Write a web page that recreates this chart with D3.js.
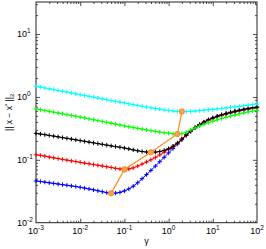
<!DOCTYPE html>
<html>
<head>
<meta charset="utf-8">
<script src="https://cdn.jsdelivr.net/npm/d3@7"></script>
<style>
  body { margin: 0; background: #fff; }
  svg { display: block; font-family: "Liberation Sans", Arial, sans-serif; }
</style>
</head>
<body>
<svg id="grafico"></svg>
<script>
// gamma sampled as 10^e
var gammaExp = [-3.0, -2.9, -2.8, -2.7, -2.6, -2.5, -2.4, -2.3, -2.2, -2.1,
                -2.0, -1.9, -1.8, -1.7, -1.6, -1.5, -1.4, -1.3, -1.2, -1.1,
                -1.0, -0.9, -0.8, -0.7, -0.6, -0.5, -0.4, -0.3, -0.2, -0.1,
                 0.0,  0.1,  0.2,  0.3,  0.4,  0.5,  0.6,  0.7,  0.8,  0.9,
                 1.0,  1.1,  1.2,  1.3,  1.4,  1.5,  1.6,  1.7,  1.8,  1.9, 2.0];

// log10 of || x - x* ||_2
var cyanLog = [0.170, 0.157, 0.143, 0.130, 0.117, 0.103, 0.090, 0.076, 0.063, 0.050,
               0.036, 0.023, 0.010, -0.004, -0.017, -0.030, -0.044, -0.057, -0.070, -0.083,
               -0.096, -0.109, -0.122, -0.135, -0.148, -0.160, -0.172, -0.184, -0.195, -0.206,
               -0.215, -0.223, -0.229, -0.233, -0.232, -0.229, -0.224, -0.218, -0.212, -0.205,
               -0.198, -0.191, -0.183, -0.175, -0.167, -0.158, -0.149, -0.140, -0.131, -0.122, -0.112];

var greenLog = [-0.190, -0.203, -0.216, -0.229, -0.242, -0.255, -0.268, -0.281, -0.294, -0.307,
                -0.320, -0.334, -0.348, -0.362, -0.376, -0.390, -0.404, -0.418, -0.432, -0.446,
                -0.460, -0.473, -0.486, -0.499, -0.512, -0.524, -0.536, -0.548, -0.559, -0.569,
                -0.578, -0.585, -0.589, -0.584, -0.560, -0.525, -0.492, -0.463, -0.436, -0.410,
                -0.386, -0.364, -0.343, -0.323, -0.304, -0.287, -0.270, -0.254, -0.239, -0.224, -0.210];

var blackLog = [-0.579, -0.590, -0.600, -0.612, -0.623, -0.635, -0.647, -0.658, -0.670, -0.682,
                -0.694, -0.706, -0.718, -0.730, -0.742, -0.754, -0.766, -0.778, -0.790, -0.800,
                -0.812, -0.826, -0.842, -0.856, -0.868, -0.877, -0.881, -0.878, -0.868, -0.850,
                -0.822, -0.783, -0.732, -0.668, -0.602, -0.540, -0.485, -0.438, -0.398, -0.362,
                -0.332, -0.306, -0.283, -0.262, -0.243, -0.226, -0.210, -0.195, -0.182, -0.170, -0.160];

var redLog = [-0.920, -0.930, -0.942, -0.955, -0.968, -0.980, -0.993, -1.005, -1.017, -1.028,
              -1.040, -1.052, -1.063, -1.075, -1.087, -1.098, -1.110, -1.122, -1.135, -1.146,
              -1.152, -1.146, -1.128, -1.100, -1.068, -1.035, -1.000, -0.962, -0.922, -0.880,
              -0.835, -0.788, -0.738, -0.676, -0.610, -0.547, -0.491, -0.443, -0.403, -0.368,
              -0.338, -0.312, -0.290, -0.270, -0.251, -0.234, -0.218, -0.204, -0.191, -0.179, -0.168];

var blueLog = [-1.337, -1.345, -1.355, -1.365, -1.375, -1.385, -1.395, -1.405, -1.415, -1.425,
               -1.437, -1.450, -1.463, -1.477, -1.492, -1.507, -1.522, -1.533, -1.530, -1.517,
               -1.495, -1.463, -1.420, -1.365, -1.300, -1.235, -1.168, -1.100, -1.030, -0.960,
               -0.890, -0.820, -0.750, -0.680, -0.612, -0.548, -0.492, -0.445, -0.405, -0.370,
               -0.340, -0.315, -0.293, -0.273, -0.255, -0.238, -0.222, -0.208, -0.195, -0.183, -0.172];

// minimum of each curve (blue, red, black, green, cyan)
var minGammaExp = [-1.3, -1.0, -0.4, 0.2, 0.3];
var minLog = [-1.533, -1.152, -0.881, -0.589, -0.233];

var xTicks = [1e-3, 1e-2, 1e-1, 1e0, 1e1, 1e2];
var xTickExp = ['-3', '-2', '-1', '0', '1', '2'];
var yTicks = [1e-2, 1e-1, 1e0, 1e1];
var yTickExp = ['-2', '-1', '0', '1'];

var largura = 266, altura = 249;
var margem = { esquerda: 36, direita: 9, superior: 2, inferior: 26.3 };
var larguraPlotagem = largura - margem.esquerda - margem.direita;
var alturaPlotagem = altura - margem.superior - margem.inferior;

var svg = d3.select('#grafico').attr('width', largura).attr('height', altura);
var plotagem = svg.append('g')
                  .attr('transform', 'translate(' + margem.esquerda + ',' + margem.superior + ')');

var x = d3.scaleLog().domain([1e-3, 1e2]).range([0, larguraPlotagem]);
var y = d3.scaleLog().domain([1e-2, Math.pow(10, 1.51)]).range([alturaPlotagem, 0]);

// minor ticks 2..9 for each decade
function menores(dominio) {
  var lista = [];
  var a = Math.floor(Math.log10(dominio[0])), b = Math.ceil(Math.log10(dominio[1]));
  for (var d = a; d < b; d++) {
    for (var m = 2; m <= 9; m++) {
      var v = m * Math.pow(10, d);
      if (v > dominio[0] && v < dominio[1]) lista.push(v);
    }
  }
  return lista;
}

function eixo(gerador, valores, tamanho, transform) {
  var g = plotagem.append('g')
    .attr('transform', transform || null)
    .call(gerador.tickValues(valores).tickSize(tamanho).tickFormat(''));
  g.select('.domain').remove();
  g.selectAll('line').attr('stroke', '#222').attr('stroke-width', 0.8);
}

var xMaj = xTicks.filter(function(v) { return v > 1e-3 && v < 1e2; });
var yMaj = yTicks.filter(function(v) { return v > 1e-2; });
eixo(d3.axisBottom(x), xMaj, -4, 'translate(0,' + alturaPlotagem + ')');
eixo(d3.axisBottom(x), menores(x.domain()), -2, 'translate(0,' + alturaPlotagem + ')');
eixo(d3.axisTop(x), xMaj, -4);
eixo(d3.axisTop(x), menores(x.domain()), -2);
eixo(d3.axisLeft(y), yMaj, -4);
eixo(d3.axisLeft(y), menores(y.domain()), -2);
eixo(d3.axisRight(y), yMaj, -4, 'translate(' + larguraPlotagem + ',0)');
eixo(d3.axisRight(y), menores(y.domain()), -2, 'translate(' + larguraPlotagem + ',0)');

plotagem.append('rect')
  .attr('width', larguraPlotagem).attr('height', alturaPlotagem)
  .attr('fill', 'none').attr('stroke', '#222').attr('stroke-width', 1);

// tick labels
var rotX = plotagem.selectAll('.rotuloX').data(xTicks).enter()
  .append('text').classed('rotuloX', true)
  .attr('x', function(d) { return x(d); })
  .attr('y', alturaPlotagem + 11)
  .attr('text-anchor', 'middle')
  .attr('font-size', 9);
rotX.append('tspan').text('10');
rotX.append('tspan').attr('dy', -4).attr('font-size', 6.5).text(function(d, i) { return xTickExp[i]; });

var rotY = plotagem.selectAll('.rotuloY').data(yTicks).enter()
  .append('text').classed('rotuloY', true)
  .attr('x', -19)
  .attr('y', function(d) { return y(d) + 3; })
  .attr('font-size', 9);
rotY.append('tspan').text('10');
rotY.append('tspan').attr('dy', -4).attr('font-size', 6.5).text(function(d, i) { return yTickExp[i]; });

// axis titles
svg.append('text')
  .attr('x', margem.esquerda + larguraPlotagem / 2)
  .attr('y', 244)
  .attr('text-anchor', 'middle')
  .attr('font-size', 9)
  .text('γ');

var ty = svg.append('text')
  .attr('transform', 'translate(12,' + (margem.superior + alturaPlotagem / 2) + ') rotate(-90)')
  .attr('text-anchor', 'middle')
  .attr('font-size', 8.5);
ty.append('tspan').text('|| x − x');
ty.append('tspan').attr('dy', -3).attr('font-size', 6).text('*');
ty.append('tspan').attr('dy', 3).text(' ||');
ty.append('tspan').attr('dy', 2).attr('font-size', 6).text('2');

// curves
var series = [
  { nome: 'blue',  cor: '#0000ff', valores: blueLog },
  { nome: 'red',   cor: '#ff0000', valores: redLog },
  { nome: 'black', cor: '#000000', valores: blackLog },
  { nome: 'green', cor: '#00ff00', valores: greenLog },
  { nome: 'cyan',  cor: '#00ffff', valores: cyanLog }
];

var linha = d3.line()
  .x(function(d) { return x(Math.pow(10, d[0])); })
  .y(function(d) { return y(Math.pow(10, d[1])); });

var cruz = 'M-2.2,0H2.2M0,-2.2V2.2';

series.forEach(function(s) {
  var pts = gammaExp.map(function(e, i) { return [e, s.valores[i]]; });
  var g = plotagem.append('g').classed('serie-' + s.nome, true);
  g.append('path')
    .attr('d', linha(pts))
    .attr('fill', 'none').attr('stroke', s.cor).attr('stroke-width', 1);
  g.selectAll('.marca').data(pts).enter()
    .append('path').classed('marca', true)
    .attr('d', cruz)
    .attr('transform', function(d) { return 'translate(' + x(Math.pow(10, d[0])) + ',' + y(Math.pow(10, d[1])) + ')'; })
    .attr('stroke', s.cor).attr('stroke-width', 1);
});

// path of the minima
var minPts = minGammaExp.map(function(e, i) { return [e, minLog[i]]; });
plotagem.append('path')
  .attr('d', linha(minPts))
  .attr('fill', 'none').attr('stroke', '#ff8c1a').attr('stroke-width', 1.2);
plotagem.selectAll('.minimo').data(minPts).enter()
  .append('circle').classed('minimo', true)
  .attr('cx', function(d) { return x(Math.pow(10, d[0])); })
  .attr('cy', function(d) { return y(Math.pow(10, d[1])); })
  .attr('r', 2.5)
  .attr('fill', '#e8a868').attr('stroke', '#ff8c1a').attr('stroke-width', 1.1);
</script>
</body>
</html>
